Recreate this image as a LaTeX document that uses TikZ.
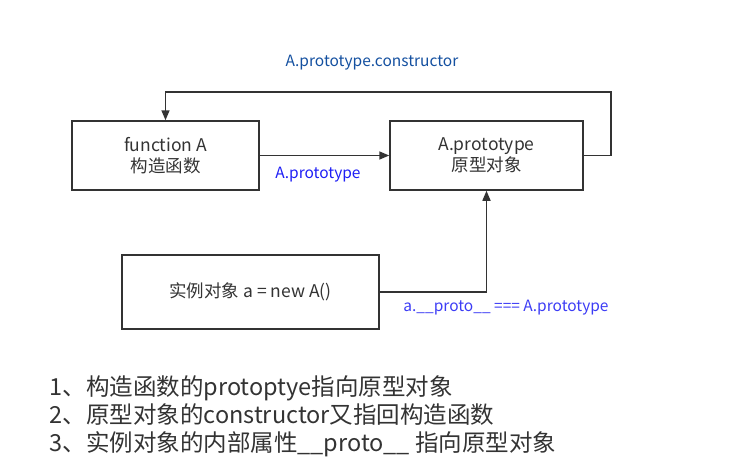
\documentclass[tikz,border=0pt]{standalone}
\usepackage{fontspec}
\setmainfont{Noto Sans CJK SC}
\usetikzlibrary{positioning,arrows.meta}
\definecolor{myline}{RGB}{51,51,51}
\definecolor{myblue}{RGB}{30,30,245}
\definecolor{mylblue}{RGB}{60,60,245}
\definecolor{mydblue}{RGB}{20,80,160}

\begin{document}
\begin{tikzpicture}[x=1pt,y=-1pt,
  box/.style={draw=myline, line width=1.5pt, align=center, inner sep=0pt,
    text=myline, font=\fontsize{17.5}{21}\selectfont},
  arr/.style={draw=myline, line width=1.5pt, -{Triangle[length=10pt,width=8pt]}},
  lbl/.style={font=\fontsize{15.5}{18}\selectfont}]

\useasboundingbox (0,0) rectangle (736,466);
% boxes
\node [box, minimum width=187pt, minimum height=69pt] (funcA) at (165.5,155.5) {function A\\构造函数};
\node [box, minimum width=193pt, minimum height=69pt] (proto) at (486.5,155.5) {A.prototype\\原型对象};
\node [box, minimum width=257pt, minimum height=74pt] (inst) at (250.5,292) {实例对象 a = new A()};
% corner of the constructor line
\coordinate (top) at (611,92);
% arrows
\draw [arr] (funcA.east) -- (proto.west);
\draw [arr] (proto.east) -| (top) -| (funcA.north);
\draw [arr] (inst.east) -| (proto.south);
% labels
\node [lbl, text=myblue] (lproto) at (318,175) {A.prototype};
\node [lbl, text=mydblue] (lcons) at (372,63) {A.prototype.constructor};
\node [lbl, text=mylblue] (linst) at (506,308) {a.\_\_proto\_\_ === A.prototype};
% notes
\node [anchor=west, align=left, text=myline, font=\fontsize{23.5}{28}\selectfont] (notes) at (46,416)
  {1、构造函数的protoptye指向原型对象\\2、原型对象的constructor又指回构造函数\\3、实例对象的内部属性\_\_proto\_\_ 指向原型对象};

\end{tikzpicture}
\end{document}
